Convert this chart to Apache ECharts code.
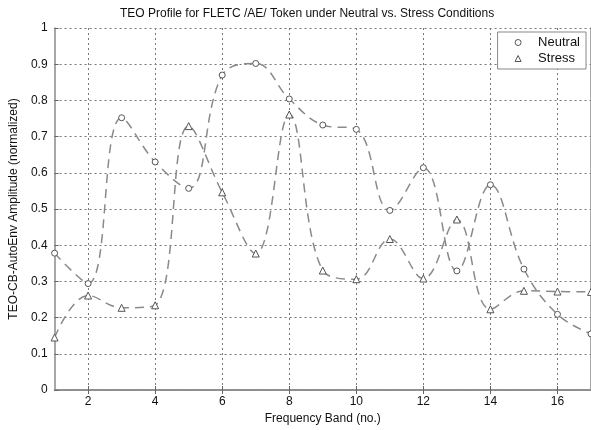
<!DOCTYPE html>
<html>
<head>
<meta charset="utf-8">
<script src="https://cdn.jsdelivr.net/npm/echarts@6/dist/echarts.min.js"></script>
<style>html,body{margin:0;padding:0;background:#fff}#c{width:591px;height:430px}</style>
</head>
<body>
<div id="c"></div>
<script>
const bands = ['1','2','3','4','5','6','7','8','9','10','11','12','13','14','15','16','17'];
const neutral = [0.378, 0.294, 0.752, 0.630, 0.557, 0.870, 0.902, 0.804, 0.732, 0.720, 0.496, 0.614, 0.329, 0.567, 0.334, 0.209, 0.155];
const stress  = [0.145, 0.261, 0.227, 0.234, 0.729, 0.546, 0.377, 0.761, 0.330, 0.306, 0.417, 0.308, 0.471, 0.223, 0.274, 0.272, 0.271];
const yTicks = [0, 0.1, 0.2, 0.3, 0.4, 0.5, 0.6, 0.7, 0.8, 0.9, 1];

const FONT = '"Liberation Sans", Arial, sans-serif';
const evenIdx = (i) => (i % 2 === 1);
const chart = echarts.init(document.getElementById('c'), null, {renderer: 'canvas'});
const axisLineStyle = {color: '#8a8a8a', width: 1.5};
const gridLine = {show: true, lineStyle: {color: '#777', type: [2, 3], width: 1}};

chart.setOption({
  backgroundColor: '#fff',
  animation: false,
  title: {
    text: 'TEO Profile for FLETC /AE/ Token under Neutral vs. Stress Conditions',
    left: 115, top: 3,
    textStyle: {fontFamily: FONT, fontSize: 12, fontWeight: 'normal', color: '#111'}
  },
  legend: {
    orient: 'vertical', right: 5, top: 32,
    backgroundColor: '#fff', borderColor: '#888', borderWidth: 1,
    padding: [4, 6, 4, 17], itemGap: 3, itemWidth: 6, itemHeight: 6,
    textStyle: {fontFamily: FONT, fontSize: 13, color: '#111', padding: [0, 0, 0, 12]},
    data: [
      {name: 'Neutral', icon: 'circle', itemStyle: {color: '#fff', borderColor: '#555', borderWidth: 1}},
      {name: 'Stress', icon: 'triangle', itemStyle: {color: '#fff', borderColor: '#555', borderWidth: 1}}
    ]
  },
  grid: {left: 48, right: -1, top: 28, bottom: 34, containLabel: false},
  xAxis: [{
    type: 'category', data: bands, boundaryGap: false, position: 'bottom',
    name: 'Frequency Band (no.)', nameLocation: 'middle', nameGap: 23,
    nameTextStyle: {fontFamily: FONT, fontSize: 12, color: '#111'},
    axisLine: {lineStyle: axisLineStyle},
    axisTick: {show: true, inside: true, length: 4, interval: (i) => evenIdx(i), lineStyle: {color: '#666'}},
    axisLabel: {interval: (i) => evenIdx(i), fontFamily: FONT, fontSize: 12, color: '#111', margin: 6},
    splitLine: {show: true, interval: (i) => evenIdx(i), lineStyle: gridLine.lineStyle}
  }, {
    type: 'category', data: bands, boundaryGap: false, position: 'top',
    axisLine: {lineStyle: axisLineStyle},
    axisTick: {show: true, inside: true, length: 4, interval: (i) => evenIdx(i), lineStyle: {color: '#666'}},
    axisLabel: {show: false}, splitLine: {show: false}
  }],
  yAxis: [{
    type: 'value', min: 0, max: 1, interval: 0.1,
    name: 'TEO-CB-AutoEnv Amplitude (normalized)', nameLocation: 'middle', nameGap: 32,
    nameTextStyle: {fontFamily: FONT, fontSize: 12, color: '#111'},
    axisLine: {show: true, lineStyle: axisLineStyle},
    axisTick: {show: true, inside: true, length: 4, lineStyle: {color: '#666'}},
    axisLabel: {fontFamily: FONT, fontSize: 12, color: '#111', margin: 7,
      formatter: (v) => { const t = yTicks.find(x => Math.abs(x - v) < 1e-6); return t === undefined ? '' : String(t); }},
    splitLine: gridLine
  }, {
    type: 'value', min: 0, max: 1, interval: 0.1, position: 'right',
    axisLine: {show: true, lineStyle: axisLineStyle}, axisTick: {show: false},
    axisLabel: {show: false}, splitLine: {show: false}
  }],
  series: [{
    name: 'Neutral', type: 'line', data: neutral, smooth: 0.4,
    symbol: 'circle', symbolSize: 6,
    itemStyle: {color: '#fff', borderColor: '#555', borderWidth: 1},
    lineStyle: {color: '#8a8a8a', width: 1.5, type: [9, 6]}
  }, {
    name: 'Stress', type: 'line', data: stress, smooth: 0.4,
    symbol: 'triangle', symbolSize: 7,
    itemStyle: {color: '#fff', borderColor: '#555', borderWidth: 1},
    lineStyle: {color: '#8a8a8a', width: 1.5, type: [9, 6]}
  }]
});
</script>
</body>
</html>
